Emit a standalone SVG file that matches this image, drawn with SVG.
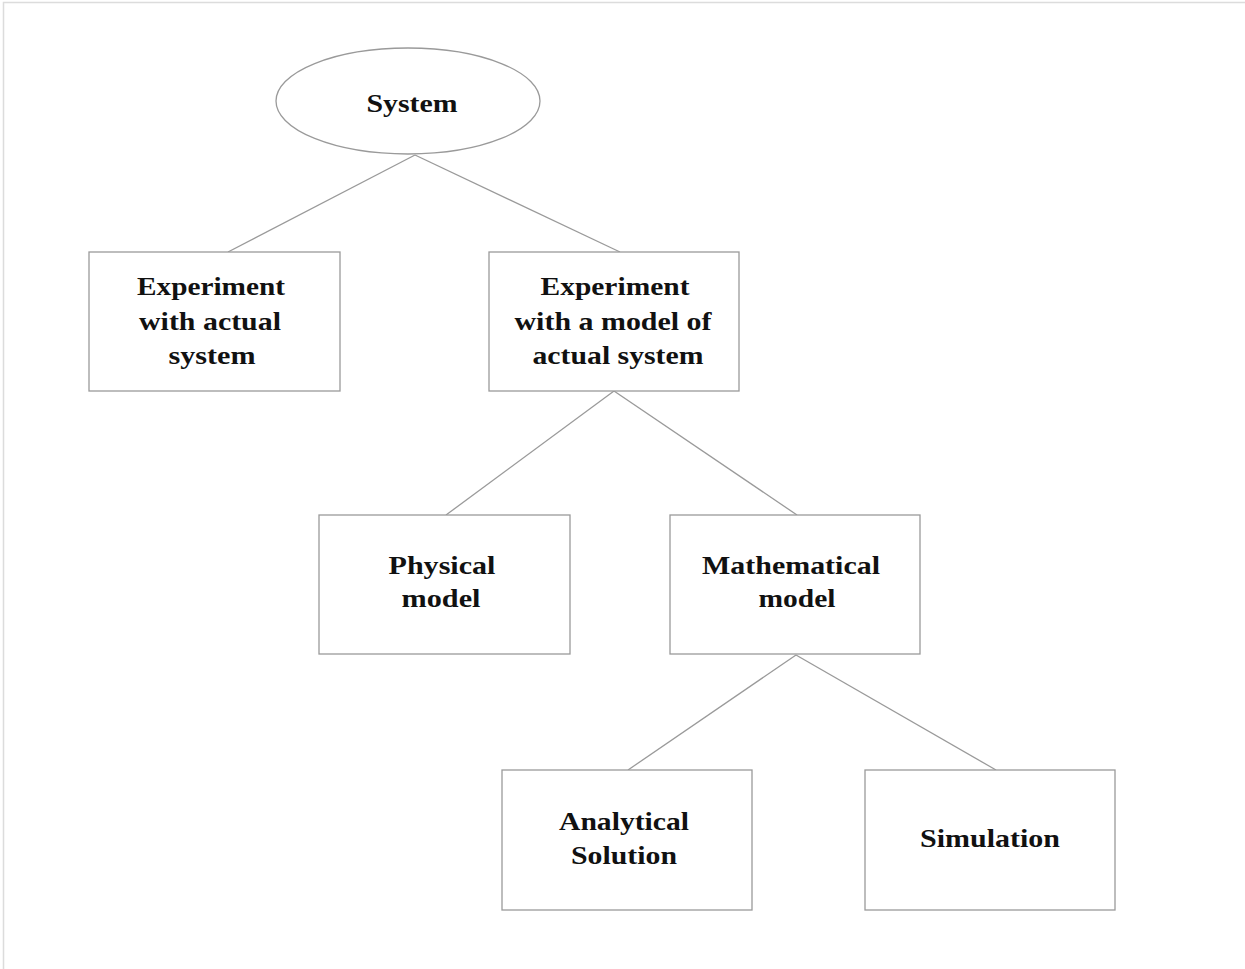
<svg xmlns="http://www.w3.org/2000/svg" width="1245" height="969" viewBox="0 0 1245 969">
<style>
.n{fill:#fff;stroke:#9a9a9a;stroke-width:1.3}
.e{stroke:#9a9a9a;stroke-width:1.3;fill:none}
text{font-family:"Liberation Serif","Times New Roman",serif;font-weight:bold;font-size:25px;fill:#111;text-anchor:middle}
</style>
<rect width="1245" height="969" fill="#fff"/>
<path d="M3.5 969 V2.5 H1245" fill="none" stroke="#dcdcdc" stroke-width="1.5"/>
<g id="connectors">
<line class="e" x1="415" y1="155" x2="228" y2="252"/>
<line class="e" x1="415" y1="155" x2="620" y2="252"/>
<line class="e" x1="614" y1="391" x2="446" y2="515"/>
<line class="e" x1="614" y1="391" x2="797" y2="515"/>
<line class="e" x1="796" y1="655" x2="628" y2="770"/>
<line class="e" x1="796" y1="655" x2="996" y2="770"/>
</g>
<g id="system">
<ellipse class="n" cx="408" cy="101" rx="132" ry="53"/>
<text x="412" y="112" textLength="91" lengthAdjust="spacingAndGlyphs">System</text>
</g>
<g id="actual">
<rect class="n" x="89" y="252" width="251" height="139"/>
<text x="211" y="295" textLength="148" lengthAdjust="spacingAndGlyphs">Experiment</text>
<text x="210" y="330" textLength="142" lengthAdjust="spacingAndGlyphs">with actual</text>
<text x="212" y="364" textLength="87" lengthAdjust="spacingAndGlyphs">system</text>
</g>
<g id="model">
<rect class="n" x="489" y="252" width="250" height="139"/>
<text x="615" y="295" textLength="149" lengthAdjust="spacingAndGlyphs">Experiment</text>
<text x="613" y="330" textLength="197" lengthAdjust="spacingAndGlyphs">with a model of</text>
<text x="618" y="364" textLength="171" lengthAdjust="spacingAndGlyphs">actual system</text>
</g>
<g id="physical">
<rect class="n" x="319" y="515" width="251" height="139"/>
<text x="442" y="574" textLength="107" lengthAdjust="spacingAndGlyphs">Physical</text>
<text x="441" y="607" textLength="79" lengthAdjust="spacingAndGlyphs">model</text>
</g>
<g id="mathematical">
<rect class="n" x="670" y="515" width="250" height="139"/>
<text x="791" y="574" textLength="178" lengthAdjust="spacingAndGlyphs">Mathematical</text>
<text x="797" y="607" textLength="77" lengthAdjust="spacingAndGlyphs">model</text>
</g>
<g id="analytical">
<rect class="n" x="502" y="770" width="250" height="140"/>
<text x="624" y="830" textLength="130" lengthAdjust="spacingAndGlyphs">Analytical</text>
<text x="624" y="864" textLength="106" lengthAdjust="spacingAndGlyphs">Solution</text>
</g>
<g id="simulation">
<rect class="n" x="865" y="770" width="250" height="140"/>
<text x="990" y="847" textLength="140" lengthAdjust="spacingAndGlyphs">Simulation</text>
</g>
</svg>
